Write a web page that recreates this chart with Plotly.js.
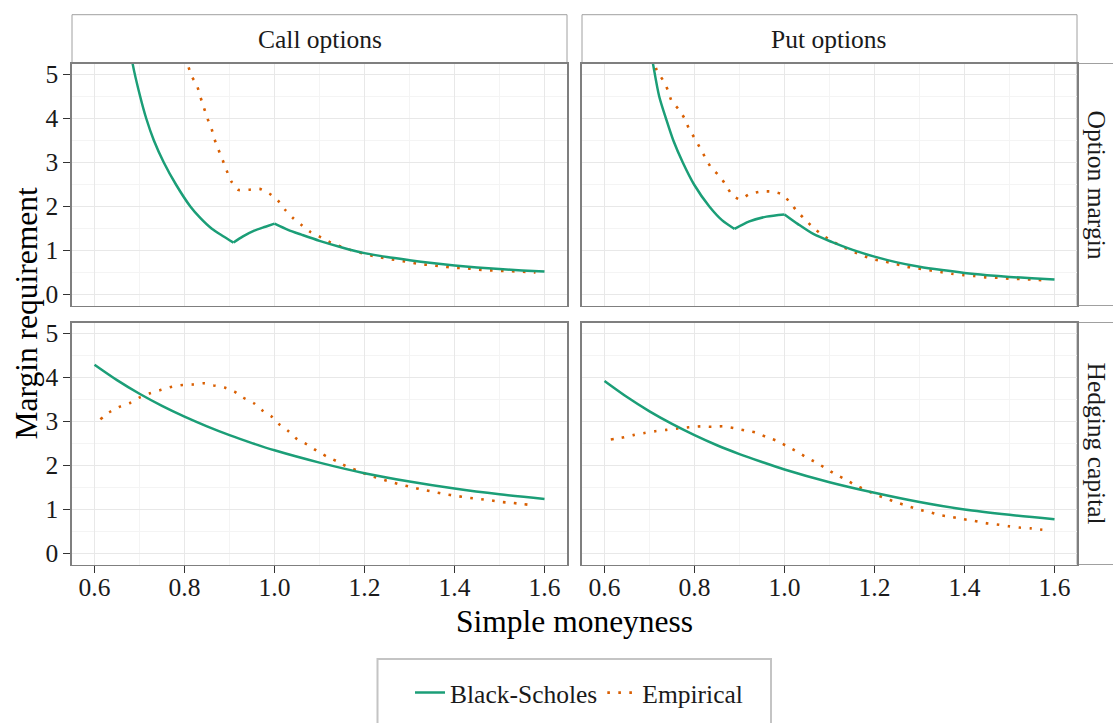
<!DOCTYPE html>
<html>
<head>
<meta charset="utf-8">
<script src="https://cdn.plot.ly/plotly-3.0.1.min.js"></script>
<style>html,body{margin:0;padding:0;background:#fff;}#chart{width:1113px;height:723px;}</style>
</head>
<body>
<div id="chart"></div>
<script>
// ---- Data ----
var seriesNames = ["Black-Scholes", "Empirical"];
var facetCols = ["Call options", "Put options"];
var facetRows = ["Option margin", "Hedging capital"];
var xTickVals = [0.6, 0.8, 1.0, 1.2, 1.4, 1.6];
var xTickText = ["0.6", "0.8", "1.0", "1.2", "1.4", "1.6"];
var xMinorVals = [0.5, 0.7, 0.9, 1.1, 1.3, 1.5, 1.7];
var yTickVals = [0, 1, 2, 3, 4, 5];
var yMinorVals = [0.5, 1.5, 2.5, 3.5, 4.5];

// Call options - Option margin
var callMarginBSx = [0.675, 0.685, 0.7015, 0.715, 0.732, 0.754, 0.781, 0.813, 0.835, 0.86, 0.885, 0.909, 0.93, 0.955, 0.98, 1.0, 1.03, 1.06, 1.10, 1.15, 1.20, 1.25, 1.30, 1.35, 1.40, 1.45, 1.50, 1.55, 1.60];
var callMarginBSy = [5.9, 5.23, 4.5, 4.0, 3.5, 3.0, 2.5, 2.0, 1.74, 1.5, 1.33, 1.18, 1.32, 1.45, 1.54, 1.61, 1.47, 1.36, 1.22, 1.07, 0.94, 0.85, 0.78, 0.715, 0.66, 0.615, 0.578, 0.547, 0.52];
var callMarginBSkinks = [0.909, 1.0];
var callMarginEmpx = [0.803, 0.808, 0.816, 0.828, 0.835, 0.843, 0.851, 0.860, 0.867, 0.876, 0.885, 0.894, 0.904, 0.919, 0.943, 0.967, 0.989, 1.008, 1.024, 1.041, 1.060, 1.080, 1.103, 1.125, 1.149, 1.172, 1.197, 1.221, 1.247, 1.271, 1.296, 1.322, 1.346, 1.371, 1.397, 1.422, 1.447, 1.473, 1.498, 1.524, 1.549, 1.580];
var callMarginEmpy = [5.4, 5.2, 4.96, 4.74, 4.50, 4.25, 4.00, 3.77, 3.52, 3.28, 3.05, 2.81, 2.57, 2.38, 2.38, 2.40, 2.29, 2.13, 1.92, 1.74, 1.58, 1.42, 1.30, 1.18, 1.08, 1.00, 0.93, 0.87, 0.82, 0.78, 0.74, 0.69, 0.67, 0.64, 0.61, 0.60, 0.57, 0.55, 0.54, 0.53, 0.52, 0.50];

// Put options - Option margin
var putMarginBSx = [0.70, 0.708, 0.7216, 0.7366, 0.753, 0.774, 0.799, 0.833, 0.861, 0.889, 0.922, 0.96, 1.0, 1.03, 1.065, 1.106, 1.15, 1.20, 1.25, 1.30, 1.35, 1.40, 1.45, 1.50, 1.55, 1.60];
var putMarginBSy = [5.7, 5.23, 4.5, 4.0, 3.5, 3.0, 2.5, 2.0, 1.69, 1.49, 1.66, 1.77, 1.82, 1.60, 1.37, 1.19, 1.02, 0.86, 0.73, 0.63, 0.555, 0.49, 0.44, 0.40, 0.37, 0.34];
var putMarginBSkinks = [0.889, 1.0];
var putMarginEmpx = [0.710, 0.716, 0.730, 0.741, 0.749, 0.764, 0.778, 0.788, 0.801, 0.813, 0.825, 0.838, 0.856, 0.870, 0.884, 0.901, 0.922, 0.947, 0.972, 0.996, 1.013, 1.029, 1.047, 1.065, 1.085, 1.106, 1.128, 1.151, 1.174, 1.198, 1.223, 1.248, 1.272, 1.297, 1.322, 1.347, 1.372, 1.398, 1.422, 1.448, 1.474, 1.499, 1.524, 1.550, 1.580];
var putMarginEmpy = [5.4, 5.09, 4.87, 4.64, 4.40, 4.22, 4.00, 3.76, 3.54, 3.32, 3.09, 2.87, 2.69, 2.48, 2.26, 2.16, 2.28, 2.34, 2.34, 2.27, 2.08, 1.88, 1.69, 1.51, 1.35, 1.21, 1.09, 0.98, 0.88, 0.80, 0.75, 0.69, 0.63, 0.59, 0.55, 0.51, 0.47, 0.44, 0.42, 0.39, 0.38, 0.36, 0.35, 0.34, 0.32];

// Call options - Hedging capital
var callHedgeBSx = [0.60, 0.65, 0.70, 0.75, 0.80, 0.85, 0.90, 0.95, 1.0, 1.1, 1.2, 1.3, 1.4, 1.5, 1.6];
var callHedgeBSy = [4.29, 3.94, 3.63, 3.355, 3.11, 2.89, 2.69, 2.51, 2.345, 2.065, 1.825, 1.635, 1.475, 1.345, 1.24];
var callHedgeEmpx = [0.613, 0.633, 0.655, 0.679, 0.701, 0.723, 0.748, 0.772, 0.796, 0.818, 0.842, 0.865, 0.889, 0.911, 0.931, 0.955, 0.973, 0.994, 1.011, 1.031, 1.050, 1.072, 1.093, 1.115, 1.138, 1.160, 1.183, 1.207, 1.231, 1.255, 1.279, 1.304, 1.329, 1.354, 1.379, 1.403, 1.429, 1.454, 1.479, 1.504, 1.529, 1.554, 1.578];
var callHedgeEmpy = [3.05, 3.21, 3.33, 3.42, 3.55, 3.64, 3.72, 3.79, 3.83, 3.84, 3.87, 3.82, 3.77, 3.68, 3.54, 3.41, 3.25, 3.11, 2.93, 2.78, 2.60, 2.48, 2.34, 2.21, 2.10, 1.98, 1.89, 1.79, 1.71, 1.64, 1.57, 1.51, 1.45, 1.40, 1.35, 1.31, 1.27, 1.24, 1.21, 1.17, 1.15, 1.12, 1.09];

// Put options - Hedging capital
var putHedgeBSx = [0.60, 0.65, 0.70, 0.75, 0.80, 0.85, 0.90, 0.95, 1.0, 1.1, 1.2, 1.3, 1.4, 1.5, 1.6];
var putHedgeBSy = [3.92, 3.555, 3.23, 2.945, 2.69, 2.46, 2.26, 2.08, 1.91, 1.62, 1.38, 1.17, 1.00, 0.88, 0.78];
var putHedgeEmpx = [0.614, 0.638, 0.664, 0.689, 0.713, 0.738, 0.763, 0.788, 0.813, 0.838, 0.862, 0.887, 0.911, 0.936, 0.959, 0.983, 1.005, 1.027, 1.048, 1.070, 1.091, 1.113, 1.136, 1.158, 1.179, 1.202, 1.226, 1.249, 1.274, 1.298, 1.323, 1.347, 1.372, 1.397, 1.422, 1.447, 1.472, 1.498, 1.522, 1.548, 1.573];
var putHedgeEmpy = [2.59, 2.63, 2.69, 2.74, 2.78, 2.81, 2.84, 2.87, 2.89, 2.88, 2.89, 2.85, 2.80, 2.75, 2.65, 2.56, 2.44, 2.32, 2.19, 2.07, 1.94, 1.80, 1.68, 1.55, 1.45, 1.34, 1.25, 1.16, 1.08, 1.00, 0.94, 0.87, 0.83, 0.78, 0.74, 0.69, 0.66, 0.62, 0.59, 0.57, 0.54];

// ---- Styling ----
var GREEN = "#1b9e77", ORANGE = "#d95f02";
var FONT = "'Liberation Serif', 'Times New Roman', serif";
var W = 1113, H = 723;
function px2x(p) { return p / W; }
function px2y(p) { return 1 - p / H; }

var bsLine = {color: GREEN, width: 2.5, shape: "spline", smoothing: 0.8};
var empLine = {color: ORANGE, width: 2.6, dash: "2.6px,8.4px", shape: "spline", smoothing: 0.6};

// split a curve into pieces at its kinks (the kink point belongs to both pieces)
function splitAt(xs, ys, kinks) {
  var segs = [], cx = [], cy = [];
  for (var i = 0; i < xs.length; i++) {
    cx.push(xs[i]); cy.push(ys[i]);
    if (kinks.indexOf(xs[i]) >= 0 && i < xs.length - 1) {
      segs.push([cx, cy]); cx = [xs[i]]; cy = [ys[i]];
    }
  }
  segs.push([cx, cy]);
  return segs;
}

var panels = [
  {xa: "x", ya: "y", bx: callMarginBSx, by: callMarginBSy, k: callMarginBSkinks, ex: callMarginEmpx, ey: callMarginEmpy},
  {xa: "x2", ya: "y2", bx: putMarginBSx, by: putMarginBSy, k: putMarginBSkinks, ex: putMarginEmpx, ey: putMarginEmpy},
  {xa: "x3", ya: "y3", bx: callHedgeBSx, by: callHedgeBSy, k: [], ex: callHedgeEmpx, ey: callHedgeEmpy},
  {xa: "x4", ya: "y4", bx: putHedgeBSx, by: putHedgeBSy, k: [], ex: putHedgeEmpx, ey: putHedgeEmpy}
];

var traces = [];
var bsShown = false;
panels.forEach(function (p, i) {
  traces.push({x: p.ex, y: p.ey, xaxis: p.xa, yaxis: p.ya, type: "scatter", mode: "lines",
    name: seriesNames[1], line: empLine, showlegend: i === 0, legendrank: 2, hoverinfo: "skip"});
});
panels.forEach(function (p, i) {
  splitAt(p.bx, p.by, p.k).forEach(function (s) {
    traces.push({x: s[0], y: s[1], xaxis: p.xa, yaxis: p.ya, type: "scatter", mode: "lines",
      name: seriesNames[0], line: bsLine, showlegend: !bsShown, legendrank: 1, hoverinfo: "skip"});
    bsShown = true;
  });
});

// panel boxes placed so that 0.1 in x = 45 px and 1 in y = 44 px
var colDom = [[px2x(72), px2x(567)], [px2x(582), px2x(1077)]];
var rowDom = [[px2y(305.5), px2y(63.5)], [px2y(564.5), px2y(322.5)]];
var TICKFONT = {family: FONT, size: 25.5, color: "#1a1a1a"};

function xAxis(col, row, anchor) {
  var bottom = row === 1;
  return {
    domain: colDom[col], anchor: anchor, range: [0.55, 1.65],
    tickmode: "array", tickvals: xTickVals, ticktext: xTickText,
    showticklabels: bottom, ticks: bottom ? "outside" : "",
    ticklen: 7, tickwidth: 1.5, tickcolor: "#333", tickfont: TICKFONT, ticklabelstandoff: -8,
    showgrid: true, gridcolor: "#e8e8e8", gridwidth: 1,
    minor: {tickmode: "array", tickvals: xMinorVals, showgrid: true, gridcolor: "#f4f4f4", gridwidth: 1, ticks: ""},
    zeroline: false, showline: true, mirror: true, linecolor: "#7f7f7f", linewidth: 1.6,
    fixedrange: true
  };
}
function yAxis(col, row, anchor) {
  var left = col === 0;
  return {
    domain: rowDom[row], anchor: anchor, range: [-0.25, 5.25],
    tickmode: "array", tickvals: yTickVals, showticklabels: left, ticks: left ? "outside" : "",
    ticklen: 7, tickwidth: 1.5, tickcolor: "#333", tickfont: TICKFONT,
    showgrid: true, gridcolor: "#e8e8e8", gridwidth: 1,
    minor: {tickmode: "array", tickvals: yMinorVals, showgrid: true, gridcolor: "#f4f4f4", gridwidth: 1, ticks: ""},
    zeroline: false, showline: true, mirror: true, linecolor: "#7f7f7f", linewidth: 1.6,
    fixedrange: true
  };
}

var stripLine = {color: "#a0a0a0", width: 1};
var STRIPFONT = {family: FONT, size: 25.5, color: "#1a1a1a"};
var shapes = [];
var annotations = [];
facetCols.forEach(function (t, c) {
  shapes.push({type: "rect", xref: "paper", yref: "paper", x0: colDom[c][0], x1: colDom[c][1],
    y0: px2y(63.5), y1: px2y(14.7), fillcolor: "#ffffff", line: stripLine, layer: "below"});
  annotations.push({text: t, xref: "paper", yref: "paper", x: (colDom[c][0] + colDom[c][1]) / 2,
    y: px2y(39), xanchor: "center", yanchor: "middle", showarrow: false, font: STRIPFONT});
});
facetRows.forEach(function (t, r) {
  shapes.push({type: "rect", xref: "paper", yref: "paper", x0: colDom[1][1], x1: 1.02,
    y0: rowDom[r][0], y1: rowDom[r][1], fillcolor: "#ffffff", line: stripLine, layer: "below"});
  annotations.push({text: t, xref: "paper", yref: "paper", x: px2x(1096), y: (rowDom[r][0] + rowDom[r][1]) / 2,
    xanchor: "center", yanchor: "middle", textangle: 90, showarrow: false, font: STRIPFONT});
});
annotations.push({text: "Simple moneyness", xref: "paper", yref: "paper", x: px2x(574), y: px2y(621),
  xanchor: "center", yanchor: "middle", showarrow: false, font: {family: FONT, size: 31.5, color: "#000"}});
annotations.push({text: "Margin requirement", xref: "paper", yref: "paper", x: px2x(26), y: px2y(313.5),
  xanchor: "center", yanchor: "middle", textangle: -90, showarrow: false, font: {family: FONT, size: 31.5, color: "#000"}});
shapes.push({type: "rect", xref: "paper", yref: "paper", x0: px2x(377.5), x1: px2x(771), y0: -0.05, y1: px2y(659),
  fillcolor: "rgba(0,0,0,0)", line: {color: "#c4c4c4", width: 2}});

var layout = {
  width: W, height: H,
  margin: {l: 0, r: 0, t: 0, b: 0},
  paper_bgcolor: "#ffffff", plot_bgcolor: "#ffffff",
  xaxis: xAxis(0, 0, "y"), yaxis: yAxis(0, 0, "x"),
  xaxis2: xAxis(1, 0, "y2"), yaxis2: yAxis(1, 0, "x2"),
  xaxis3: xAxis(0, 1, "y3"), yaxis3: yAxis(0, 1, "x3"),
  xaxis4: xAxis(1, 1, "y4"), yaxis4: yAxis(1, 1, "x4"),
  showlegend: true,
  legend: {orientation: "h", x: px2x(410), y: px2y(693), xanchor: "left", yanchor: "middle",
    font: {family: FONT, size: 25.5, color: "#1a1a1a"}, bgcolor: "rgba(0,0,0,0)", borderwidth: 0,
    traceorder: "normal", itemwidth: 30},
  shapes: shapes, annotations: annotations
};

Plotly.newPlot("chart", traces, layout, {displayModeBar: false, staticPlot: true});
</script>
</body>
</html>
